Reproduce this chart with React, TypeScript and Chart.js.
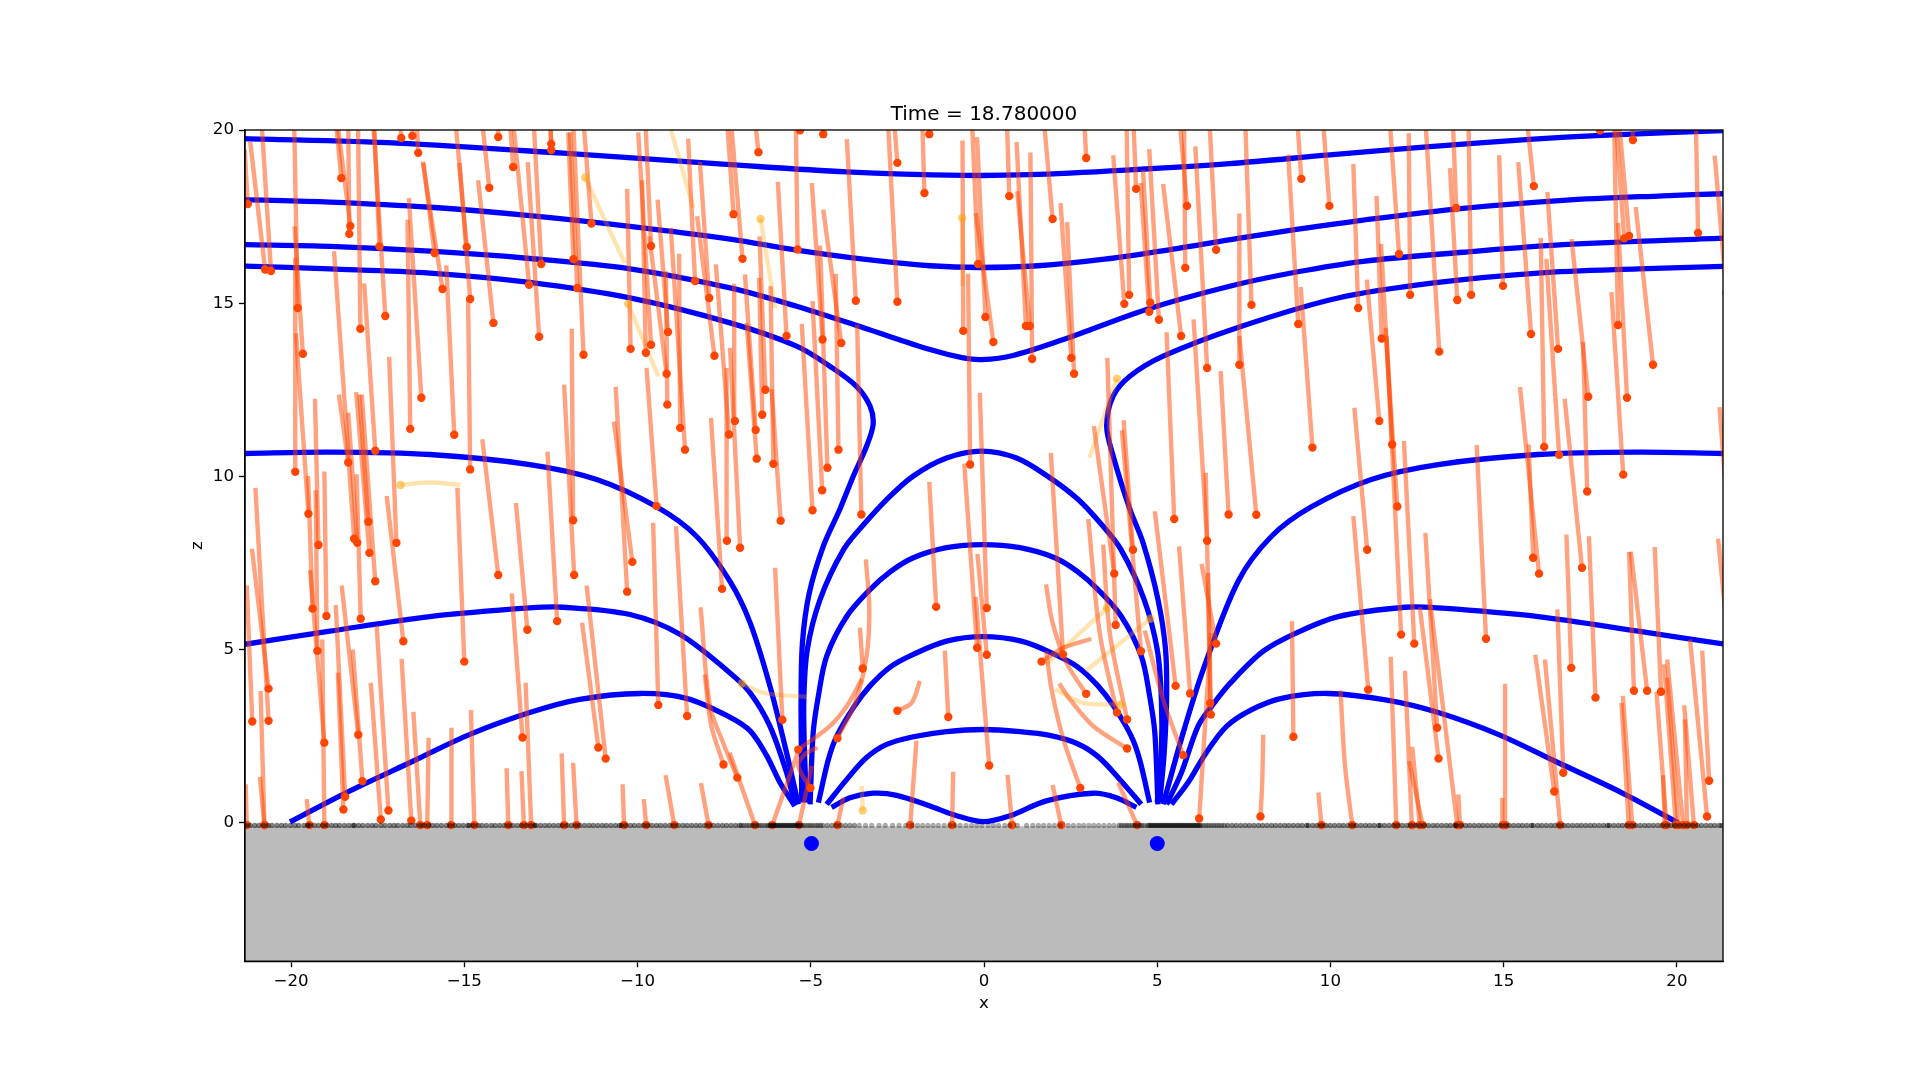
import React, { useEffect, useRef } from "react";
import { Chart, registerables } from "chart.js";

Chart.register(...registerables);

type P = [number, number];

const xTickValues = [-20, -15, -10, -5, 0, 5, 10, 15, 20];
const zTickValues = [0, 5, 10, 15, 20];
const titleText = "Time = 18.780000";
const groundLevel = -0.1;
const sandZ = -0.08;
const landedZ = -0.07;
const poles: P[] = [[-4.98, -0.6], [5.0, -0.6]];

// [head x, head z, tail x, tail z]
const tracksFarLeft = [
  [-21.25,17.86,-21.34,19.43],[-20.75,15.97,-21.18,19.67],[-20.58,15.93,-20.85,20.2],[-18.55,18.61,-18.72,20.39],
  [-18.29,17.23,-18.66,20.2],[-18.32,17.0,-18.35,20.2],[-19.81,14.86,-19.91,20.2],[-19.66,13.54,-19.9,17.22],
  [-19.88,10.13,-19.88,16.31],[-19.5,8.92,-19.86,14.13],[-18.0,14.26,-18.07,20.39],[-17.45,16.64,-17.6,20.2],
  [-17.28,14.63,-17.64,20.39],[-16.82,19.77,-16.9,21.07],[-16.5,19.83,-16.52,21.55],[-16.33,19.34,-16.44,21.55],
  [-15.86,16.45,-16.18,19.05],[-15.63,15.41,-16.2,19.09],[-16.24,12.27,-16.6,18.04],[-16.56,11.37,-16.64,17.41],
  [-15.29,11.2,-15.52,16.09],[-14.93,16.62,-15.25,20.2],[-14.83,15.12,-15.14,19.05],[-14.83,10.2,-14.89,15.1],
  [-14.28,18.33,-14.5,20.39],[-14.02,19.8,-14.07,21.55],[-14.16,14.43,-14.6,18.55],[-13.59,18.93,-13.73,20.87],
  [-13.13,15.53,-13.65,20.87],[-12.78,16.13,-13.03,20.87],[-12.84,14.03,-13.17,19.07],[-12.49,19.6,-12.58,21.55],
  [-12.49,19.42,-12.55,21.35],[-11.85,16.27,-12.0,19.93],[-11.74,15.44,-11.95,19.93],[-11.56,13.51,-11.86,20.3],
  [-11.33,17.3,-11.57,20.39],[-10.2,13.68,-10.3,18.3],[-9.61,16.65,-9.77,20.2],[-9.76,13.57,-9.87,18.55],
  [-9.61,13.8,-9.98,19.93],[-9.16,12.96,-9.66,16.93],[-9.12,14.17,-9.42,17.99],[-9.14,12.07,-9.18,15.92],
  [-8.77,11.4,-8.8,16.43],[-8.63,10.77,-9.04,17.17],[-8.34,15.64,-8.54,19.75],[-7.93,15.15,-8.2,19.08],
  [-7.78,13.48,-8.28,17.51],[-7.36,11.21,-7.74,16.12],[-9.45,9.14,-9.74,13.13],[-7.42,8.14,-7.43,13.13],
];
const tracksLowerLeft = [
  [-18.18,8.2,-18.76,16.5],[-17.57,10.74,-17.89,15.57],[-18.35,10.4,-18.62,12.36],[-16.96,8.08,-17.17,13.45],
  [-17.74,7.79,-18.12,12.43],[-17.77,8.69,-18.03,12.36],[-18.09,8.08,-18.35,11.84],[-19.21,8.02,-19.31,12.24],
  [-18.98,5.97,-19.04,10.14],[-19.38,6.18,-19.51,10.01],[-19.24,4.96,-19.29,9.6],[-19.04,2.31,-19.45,7.29],
  [-20.65,2.94,-21.03,9.67],[-20.65,3.87,-21.13,7.91],[-21.12,2.92,-21.28,6.85],[-16.76,5.24,-17.24,9.43],
  [-17.99,5.89,-18.11,10.06],[-17.57,6.97,-17.96,12.36],[-15.0,4.65,-15.2,9.67],[-13.18,5.57,-13.51,9.23],
  [-14.02,7.15,-14.48,11.07],[-12.32,5.82,-12.6,10.71],[-11.86,8.73,-11.9,14.26],[-11.83,7.15,-12.12,12.65],
  [-10.3,6.67,-10.63,12.58],[-10.15,7.53,-10.68,11.58],[-9.4,3.4,-9.55,8.66],[-8.57,3.08,-8.89,8.56],
  [-7.56,6.75,-7.88,11.69],[-18.44,0.75,-18.71,6.28],[-18.49,0.38,-18.65,4.33],[-18.06,2.54,-18.54,6.85],
  [-17.94,1.2,-18.22,5.0],[-17.41,0.09,-17.7,4.04],[-17.19,0.35,-17.53,5.69],[-16.53,0.06,-16.81,4.73],
  [-13.32,2.46,-13.63,6.62],[-11.13,2.17,-11.6,5.77],[-10.92,1.85,-11.47,6.85],
];
const tracksCentre = [
  [-6.51,19.36,-6.64,20.59],[-6.97,16.28,-7.28,19.99],[-7.23,17.57,-7.47,21.07],[-5.31,19.99,-5.41,21.55],
  [-4.64,19.88,-4.69,21.55],[-5.38,16.55,-5.44,20.87],[-5.7,14.05,-5.95,18.5],[-4.66,13.95,-4.97,18.47],
  [-4.12,13.85,-4.64,17.7],[-4.52,10.25,-4.73,16.66],[-4.2,10.77,-4.28,15.85],[-3.7,15.07,-3.96,19.74],
  [-2.5,19.05,-2.62,20.59],[-2.5,15.04,-2.79,20.59],[-1.72,18.18,-1.8,20.87],[-1.58,19.88,-1.66,21.55],
  [-0.6,14.2,-0.62,19.7],[-0.17,16.13,-0.36,20.59],[0.04,14.6,-0.2,19.79],[0.27,13.88,-0.23,17.6],
  [-0.4,10.34,-0.46,15.85],[0.73,18.09,0.65,20.59],[1.21,14.34,0.94,19.65],[1.32,14.34,0.96,18.23],
  [1.39,13.39,1.34,19.35],[1.98,17.43,1.71,20.49],[2.52,13.42,2.21,17.89],[2.6,12.96,2.4,17.34],
  [2.95,19.19,2.88,20.59],[4.05,14.98,3.73,19.27],[4.19,15.24,4.11,20.59],[4.39,18.3,4.3,20.59],
  [4.8,15.01,4.59,18.85],[4.77,14.75,4.52,18.47],[5.05,14.52,4.77,19.45],[5.69,14.05,5.17,18.44],
  [5.86,17.81,5.62,20.59],[5.81,16.02,5.77,20.59],[6.44,13.13,6.1,19.53],[6.7,16.54,6.49,20.59],
  [-6.31,12.5,-6.48,16.93],[-6.4,11.78,-6.49,15.73],[-7.19,11.6,-7.21,15.56],[-6.59,11.34,-6.9,15.83],
  [-6.56,10.51,-6.85,14.43],[-6.08,10.36,-6.16,15.49],[-5.87,8.72,-6.13,12.51],[-4.95,9.02,-5.26,14.4],
  [-4.67,9.6,-4.95,15.06],[-3.54,8.9,-3.66,14.38],[-1.38,6.23,-1.58,9.84],[-0.2,5.05,-0.57,10.37],
  [0.08,6.2,-0.12,12.41],[2.28,4.86,1.93,10.68],[3.76,7.19,3.17,11.45],[3.8,5.71,3.56,13.42],
  [4.3,7.88,4.03,11.62],[4.53,4.95,3.98,11.33],[5.49,8.77,5.27,14.16],[6.44,8.14,6.05,14.53],
  [6.53,3.45,6.4,10.1],[7.06,8.9,6.83,13.04],[-7.04,7.94,-7.33,13.71],[-5.82,2.97,-6.03,7.36],
  [-3.5,4.45,-3.58,5.63],[-1.03,3.05,-1.13,4.97],[0.15,1.65,-0.24,6.52],[0.08,4.85,-0.19,7.76],
  [5.53,3.95,4.93,8.99],[5.95,3.73,5.63,7.98],[6.7,5.17,6.28,7.47],[6.55,3.12,6.47,7.21],[6.21,0.12,6.55,5.48],
];
const tracksFarRight = [
  [7.72,14.95,7.53,20.59],[7.37,13.22,7.37,17.59],[9.07,14.4,8.78,19.29],[9.16,18.59,9.02,20.59],
  [9.48,10.83,9.14,15.47],[9.97,17.81,9.77,20.49],[10.8,14.86,10.66,19.02],[11.41,11.6,11.05,15.68],
  [11.48,13.98,11.33,18.1],[11.78,10.92,11.46,16.71],[11.93,9.13,11.59,14.29],[11.98,16.42,11.69,20.59],
  [12.3,15.24,12.26,19.91],[13.14,13.6,12.73,20.49],[13.63,17.75,13.52,20.59],[13.66,15.09,13.45,18.9],
  [14.06,15.24,13.98,20.59],[14.98,15.5,14.87,19.27],[15.79,14.11,15.42,19.07],[15.87,18.38,15.64,20.59],
  [16.57,13.68,16.26,18.21],[16.17,10.85,16.07,16.88],[16.6,10.62,16.23,16.28],[17.44,12.3,16.96,16.85],
  [17.41,9.56,17.29,13.88],[18.3,14.37,18.18,20.59],[18.48,16.87,18.21,20.59],[18.62,16.94,18.3,20.59],
  [18.56,12.27,18.3,17.32],[18.45,10.05,18.11,15.32],[19.31,13.22,18.81,17.78],[20.61,17.03,20.54,20.59],
  [18.73,19.71,18.69,21.07],[17.78,19.99,17.73,21.55],[21.43,15.3,21.09,19.26],[21.52,8.09,21.23,12.0],
  [21.48,5.2,21.19,8.2],
];
const tracksLowerRight = [
  [11.06,7.88,10.69,11.98],[11.09,3.84,10.66,8.85],[12.42,5.17,12.12,11.02],[12.04,5.43,11.62,14.05],
  [14.49,5.31,14.22,10.9],[15.85,7.65,15.72,10.92],[16.02,7.19,15.47,12.58],[17.26,7.36,16.76,12.24],
  [16.95,4.47,16.81,8.32],[17.65,3.61,17.46,8.27],[18.76,3.81,18.62,7.82],[19.14,3.81,18.67,7.82],
  [19.54,3.78,19.36,7.96],[20.93,1.21,20.73,4.97],[20.87,0.18,20.38,5.29],[13.08,2.74,12.74,8.37],
  [13.12,1.85,12.58,6.22],[8.93,2.48,8.89,5.82],[7.86,8.89,7.37,14.05],[16.72,1.44,16.55,6.16],[16.46,0.9,15.91,4.85],
];

// [landing x, tail x, tail z]
const landedTracks = [
  [-21.28,-21.31,1.11],[-20.77,-20.88,3.8],[-20.77,-20.9,1.32],[-19.47,-19.55,0.68],[-19.04,-19.1,5.29],
  [-16.27,-16.47,3.2],[-16.07,-16.03,2.45],[-15.38,-15.37,2.74],[-14.71,-14.81,3.25],[-13.73,-13.78,1.57],
  [-13.28,-13.35,1.49],[-13.07,-13.23,4.04],[-12.12,-12.19,2.0],[-11.76,-11.86,1.73],[-10.39,-10.43,1.11],
  [-9.75,-9.82,0.68],[-8.94,-9.19,1.37],[-7.95,-8.17,1.14],[-6.61,-7.34,2.02],[-6.11,-5.36,2.07],
  [-5.34,-4.97,1.64],[-4.23,-4.06,0.72],[-2.13,-1.95,2.36],[-0.92,-0.89,1.47],[0.81,0.68,1.38],
  [2.23,1.98,1.09],[4.42,3.87,1.16],[9.74,9.65,0.87],[11.9,11.74,4.79],[12.35,12.15,4.38],
  [12.58,12.36,2.19],[12.66,12.27,1.78],[13.66,12.87,6.45],[13.74,13.69,0.82],[15.05,15.04,4.01],
  [14.98,14.96,0.71],[16.63,16.19,4.71],[18.61,18.4,3.46],[18.71,18.44,3.66],[19.65,19.6,1.37],
  [19.97,19.63,4.57],[20.04,19.72,4.19],[20.18,19.72,4.71],[20.29,20.23,2.98],[20.49,20.21,3.39],[19.7,19.41,3.78],
];

// head first, then along the tail
const curvedTracks: P[][] = [
  [[-5.36,2.11],[-4.45,2.79],[-3.96,3.37],[-3.53,4.14]],
  [[-4.23,2.44],[-3.72,3.46],[-3.39,4.81],[-3.31,6.16],[-3.41,7.6]],
  [[-5.01,1.0],[-5.36,1.64],[-5.17,1.97],[-4.81,2.17]],
  [[-2.5,3.23],[-2.09,3.46],[-1.85,4.09]],
  [[2.78,1.0],[2.29,2.41],[1.95,3.85],[1.8,4.95]],
  [[2.95,3.72],[2.38,4.62],[1.98,5.77],[1.79,6.88]],
  [[1.66,4.65],[2.29,5.05],[3.1,5.31]],
  [[4.13,2.14],[3.15,2.79],[2.48,3.56],[2.17,4.02]],
  [[5.75,1.95],[5.17,3.56],[4.64,5.55]],
  [[3.84,3.18],[3.34,5.48],[3.01,8.77]],
  [[4.13,2.98],[3.63,5.48],[3.44,8.03]],
  [[-7.12,1.3],[-7.53,2.31],[-7.91,3.37],[-8.18,6.22]],
  [[-7.52,1.68],[-7.87,2.79],[-8.06,4.28]],
  [[7.98,0.18],[8.03,1.16],[8.06,2.54]],
  [[10.63,-0.07],[10.42,1.64],[10.29,3.82]],
];

const paleTracks: P[][] = [
  [[-11.51,18.63],[-10.37,16.16]],
  [[-10.27,14.98],[-9.4,12.89]],
  [[-9.09,20.2],[-8.39,17.75]],
  [[-16.84,9.75],[-15.99,9.82],[-15.11,9.75]],
  [[-6.45,17.43],[-6.03,14.86]],
  [[-0.63,17.46],[-0.62,15.49]],
  [[3.84,12.82],[3.04,10.54]],
  [[-6.99,4.02],[-6.37,3.75],[-5.12,3.63]],
  [[3.55,6.2],[1.8,4.57]],
  [[4.8,5.89],[2.94,4.38]],
  [[3.94,3.41],[2.86,3.46],[2.05,3.85]],
  [[-3.5,0.35],[-3.53,1.06]],
];

const lineTop: P[] = [[-21.33,19.75],[-16.95,19.62],[-12.15,19.33],[-7.33,19.0],[-3.97,18.79],[-0.6,18.69],[1.32,18.71],[4.21,18.85],[7.09,19.03],[9.98,19.28],[12.87,19.52],[15.75,19.73],[18.16,19.86],[21.33,19.98]];
const lineSecond: P[] = [[-21.33,17.99],[-18.88,17.92],[-15.99,17.77],[-13.11,17.53],[-10.22,17.22],[-7.33,16.85],[-5.41,16.53],[-3.48,16.27],[-1.56,16.08],[-0.12,16.03],[1.56,16.08],[3.48,16.27],[5.41,16.55],[7.33,16.87],[9.02,17.13],[10.95,17.4],[13.83,17.74],[16.72,17.97],[19.6,18.1],[21.33,18.16]];
const lineSaddle: P[] = [[-21.33,16.69],[-18.88,16.64],[-15.99,16.5],[-13.11,16.29],[-10.22,15.99],[-7.33,15.44],[-5.41,14.91],[-3.48,14.29],[-1.56,13.66],[-0.6,13.42],[-0.07,13.37],[0.84,13.49],[2.29,13.95],[4.69,14.82],[7.09,15.49],[9.02,15.9],[10.95,16.21],[13.83,16.47],[16.72,16.69],[21.33,16.88]];
const lineLeftSeparatrix: P[] = [[-21.33,16.07],[-18.88,15.99],[-15.99,15.87],[-13.11,15.6],[-10.22,15.15],[-7.33,14.43],[-5.41,13.76],[-4.45,13.18],[-3.68,12.6],[-3.29,12.03],[-3.2,11.5],[-3.39,10.87],[-3.77,10.01],[-4.16,9.05],[-4.64,7.98],[-5.05,6.6],[-5.24,5.2],[-5.28,3.6],[-5.27,2.0],[-5.26,0.58]];
const lineRightSeparatrix: P[] = [[5.07,0.58],[5.2,2.0],[5.27,3.6],[5.24,5.0],[5.02,6.45],[4.59,8.08],[4.21,9.05],[3.73,10.58],[3.54,11.45],[3.73,12.32],[4.21,12.89],[5.17,13.47],[7.33,14.3],[10.22,15.15],[13.11,15.6],[15.99,15.87],[18.88,15.99],[21.33,16.06]];
const lineLeftTen: P[] = [[-21.33,10.66],[-18.88,10.7],[-15.99,10.63],[-13.11,10.34],[-11.18,9.91],[-9.45,9.12],[-8.3,8.27],[-7.34,6.98],[-6.75,5.77],[-6.18,3.95],[-5.7,2.02],[-5.36,0.53]];
const lineRightTen: P[] = [[5.17,0.53],[5.75,2.6],[6.32,4.4],[7.34,6.98],[8.3,8.27],[9.45,9.12],[11.18,9.91],[13.11,10.34],[15.99,10.63],[18.88,10.7],[21.33,10.66]];
const lineLeftSix: P[] = [[-21.33,5.15],[-18.88,5.53],[-15.99,5.95],[-13.11,6.2],[-12.15,6.22],[-10.22,6.01],[-8.78,5.44],[-7.34,4.33],[-6.75,3.75],[-6.18,2.79],[-5.7,1.45],[-5.46,0.53]];
const lineRightSix: P[] = [[5.27,0.53],[5.7,1.45],[6.18,2.79],[6.6,3.4],[7.1,4.02],[8.06,4.95],[9.02,5.48],[10.22,5.95],[12.15,6.22],[13.11,6.2],[15.99,5.95],[18.88,5.53],[21.33,5.16]];
const lineLeftLow: P[] = [[-20.03,0.02],[-18.4,0.87],[-16.47,1.78],[-14.84,2.55],[-13.11,3.18],[-11.67,3.56],[-9.93,3.73],[-8.59,3.59],[-7.34,3.05],[-6.75,2.65],[-6.27,1.93],[-5.89,1.16],[-5.46,0.48]];
const lineRightLow: P[] = [[5.41,0.53],[5.89,1.16],[6.4,2.0],[7.0,2.78],[7.7,3.25],[8.59,3.59],[9.93,3.73],[11.67,3.53],[13.11,3.18],[14.84,2.55],[16.47,1.78],[18.4,0.87],[20.03,0.0]];
const archTen: P[] = [[-5.12,0.58],[-5.18,2.0],[-5.2,3.56],[-5.1,5.0],[-4.73,6.45],[-4.05,7.89],[-3.48,8.6],[-2.81,9.33],[-2.04,10.01],[-1.08,10.53],[-0.07,10.73],[0.94,10.53],[1.9,9.96],[2.72,9.33],[3.4,8.6],[3.95,7.89],[4.62,6.45],[5.0,5.0],[5.12,3.56],[5.12,2.0],[5.0,0.58]];
const archEight: P[] = [[-5.02,0.53],[-4.93,2.6],[-4.78,3.66],[-4.54,4.81],[-3.96,5.96],[-3.29,6.73],[-2.7,7.25],[-2.04,7.65],[-1.08,7.94],[-0.04,8.03],[1.04,7.94],[2.04,7.65],[2.7,7.25],[3.29,6.73],[3.96,5.96],[4.54,4.81],[4.78,3.66],[4.93,2.6],[5.02,0.53]];
const archFive: P[] = [[-4.78,0.58],[-4.49,1.83],[-4.25,2.5],[-3.75,3.35],[-3.29,3.95],[-2.7,4.5],[-2.04,4.86],[-1.08,5.24],[-0.04,5.37],[1.08,5.24],[2.04,4.86],[2.7,4.5],[3.29,3.95],[3.75,3.35],[4.25,2.5],[4.49,1.83],[4.78,0.58]];
const archTwo: P[] = [[-4.54,0.53],[-3.96,1.25],[-3.39,1.88],[-2.81,2.26],[-2.04,2.48],[-1.08,2.63],[-0.04,2.69],[1.04,2.63],[1.9,2.52],[2.7,2.28],[3.3,1.9],[3.9,1.27],[4.54,0.53]];
const archLow: P[] = [[-4.4,0.44],[-3.87,0.72],[-3.2,0.85],[-2.52,0.79],[-1.56,0.48],[-0.79,0.2],[-0.02,0.03],[0.75,0.2],[1.8,0.63],[3.15,0.85],[3.82,0.72],[4.4,0.44]];

// sand grains lying on the ground
const sandOuterLeft = [-21.3,-21.18,-21.05,-20.93,-20.79,-20.66,-20.55,-20.41,-20.28,-20.16,-20.02,-19.89,-19.78,-19.63,-19.52,-19.47,-19.33,-19.21,-19.08,-18.96,-18.83,-18.71,-18.6,-18.46,-18.33,-18.21,-18.17,-18.05,-17.93,-17.79,-17.66,-17.55,-17.41,-17.29,-17.15,-17.03,-16.92,-16.78,-16.65,-16.54,-16.41,-16.27,-16.16,-16.03,-15.91,-15.79,-15.66,-15.52,-15.41,-15.28,-15.16,-15.03,-14.9,-14.86,-14.74,-14.6,-14.49,-14.36,-14.22,-14.11,-13.98,-13.85,-13.72,-13.6,-13.47,-13.35,-13.22,-13.09,-12.97,-12.93,-12.8,-12.67,-12.55,-12.42,-12.29,-12.17,-12.03,-11.91,-11.78,-11.66,-11.53,-11.4,-11.28,-11.15,-11.02,-10.9,-10.77,-10.64,-10.52,-10.47,-10.34,-10.21,-10.09,-9.96,-9.83,-9.71,-9.58,-9.45,-9.33,-9.2,-9.07,-8.95,-8.82,-8.69,-8.57,-8.44,-8.31,-8.19,-8.06,-7.93,-7.81,-7.68,-7.55,-7.43,-7.3,-7.17,-7.05];
const sandOuterRight = [7.03,7.16,7.28,7.41,7.54,7.66,7.79,7.92,8.04,8.17,8.3,8.42,8.55,8.68,8.8,8.93,9.06,9.18,9.31,9.36,9.49,9.61,9.74,9.87,9.99,10.12,10.25,10.37,10.5,10.63,10.75,10.88,11.01,11.13,11.26,11.39,11.44,11.56,11.69,11.82,11.94,12.07,12.2,12.32,12.45,12.58,12.7,12.83,12.96,13.08,13.21,13.34,13.46,13.59,13.64,13.77,13.9,14.02,14.15,14.28,14.4,14.53,14.66,14.78,14.91,15.04,15.16,15.29,15.42,15.54,15.67,15.8,15.85,15.98,16.1,16.23,16.36,16.48,16.61,16.74,16.86,16.99,17.12,17.24,17.37,17.5,17.62,17.75,17.88,18.0,18.05,18.18,18.31,18.43,18.56,18.69,18.81,18.94,19.07,19.19,19.32,19.45,19.57,19.7,19.83,19.95,20.08,20.21,20.33,20.46,20.59,20.71,20.84,20.97,21.09,21.22,21.3];
const sandMedium = [-7.0,-6.93,-6.85,-6.78,-6.7,-6.63,-6.55,-6.48,-6.41,-6.33,-6.26,-5.23,-5.16,-5.08,-5.01,-4.94,-4.86,-4.79,-4.72,-4.65,-4.52,-4.39,-4.26,-4.13,-4.0,-3.87,-3.74,3.9,3.97,4.05,4.12,4.19,4.27,4.34,4.41,4.49,4.56,4.63,6.33,6.41,6.48,6.56,6.63,6.71,6.78,6.86,6.93];
const sandLight = [-3.6,-3.42,-3.24,-3.03,-2.85,-2.64,-2.45,-2.26,-2.08,-1.92,-1.77,-1.62,-1.47,-1.32,-1.15,-0.99,-0.84,-0.69,-0.52,-0.36,-0.21,-0.06,0.12,0.27,0.42,0.6,0.74,0.96,1.23,1.41,1.57,1.72,1.88,2.03,2.2,2.43,2.58,2.74,2.88,3.03,3.17,3.31,3.46,3.61,3.75];
const sandDense = [-6.2,-6.17,-6.13,-6.1,-6.06,-6.03,-5.99,-5.96,-5.92,-5.89,-5.85,-5.82,-5.78,-5.75,-5.71,-5.68,-5.64,-5.61,-5.57,-5.54,-5.5,-5.47,-5.43,-5.4,-5.36,-5.33,-5.29,4.72,4.76,4.79,4.83,4.86,4.9,4.93,4.97,5.0,5.04,5.07,5.11,5.14,5.18,5.21,5.25,5.28,5.32,5.35,5.39,5.42,5.46,5.49,5.53,5.56,5.6,5.63,5.67,5.7,5.74,5.77,5.81,5.84,5.88,5.91,5.95,5.98,6.02,6.05,6.09,6.12,6.16,6.19,6.23,6.26];

const FONT = "'DejaVu Sans', sans-serif";
const ORANGERED = "#ff4500";

const toPoints = (pts: P[]) => pts.map(([x, y]) => ({ x, y }));

const lineDataset = (pts: P[], color: string, width: number, tension = 0) => ({
  data: toPoints(pts),
  showLine: true,
  borderColor: color,
  borderWidth: width,
  pointRadius: 0,
  tension,
  clip: 0,
  fill: false,
});

const dotDataset = (pts: P[], color: string, radius: number) => ({
  data: toPoints(pts),
  showLine: false,
  backgroundColor: color,
  borderWidth: 0,
  pointRadius: radius,
  pointBorderWidth: 0,
  clip: 0,
});

const frame = {
  id: "frame",
  afterDraw(chart: any) {
    const { ctx, chartArea: a } = chart;
    ctx.save();
    ctx.strokeStyle = "#000";
    ctx.lineWidth = 1.33;
    ctx.strokeRect(a.left, a.top, a.right - a.left, a.bottom - a.top);
    ctx.restore();
  },
};

export default function App() {
  const ref = useRef<HTMLCanvasElement>(null);
  useEffect(() => {
    const straight = [...tracksFarLeft, ...tracksLowerLeft, ...tracksCentre, ...tracksFarRight, ...tracksLowerRight];
    const landed: number[][] = landedTracks.map(([hx, tx, tz]) => [hx, landedZ, tx, tz]);
    const allStraight = [...straight, ...landed];
    const trackColor = "rgba(255,69,0,0.5)";
    const paleColor = "rgba(255,165,0,0.3)";
    const fieldLines = [lineTop, lineSecond, lineSaddle, lineLeftSeparatrix, lineRightSeparatrix, lineLeftTen, lineRightTen, lineLeftSix, lineRightSix, lineLeftLow, lineRightLow, archTen, archEight, archFive, archTwo, archLow];
    const sand = (xs: number[]) => xs.map((x) => [x, sandZ] as P);

    const datasets: any[] = [
      dotDataset(sand(sandDense), "rgba(0,0,0,0.4)", 2.6),
      dotDataset(sand(sandOuterLeft), "rgba(0,0,0,0.5)", 2.6),
      dotDataset(sand(sandOuterRight), "rgba(0,0,0,0.5)", 2.6),
      dotDataset(sand(sandMedium), "rgba(0,0,0,0.42)", 2.6),
      dotDataset(sand(sandLight), "rgba(0,0,0,0.32)", 2.6),
      dotDataset(poles, "#0000ff", 7.5),
      dotDataset([...allStraight.map((t) => [t[0], t[1]] as P), ...curvedTracks.map((c) => c[0])], ORANGERED, 4.2),
      dotDataset(paleTracks.map((c) => c[0]), "rgba(255,165,0,0.55)", 4.2),
      ...allStraight.map((t) => lineDataset([[t[0], t[1]], [t[2], t[3]]], trackColor, 4.4)),
      ...curvedTracks.map((c) => lineDataset(c, trackColor, 4.4, 0.33)),
      ...paleTracks.map((c) => lineDataset(c, paleColor, 4.4, 0.33)),
      ...fieldLines.map((l) => lineDataset(l, "#0000ff", 5.3, 0.33)),
      {
        data: toPoints([[-21.33, groundLevel], [21.33, groundLevel]]),
        showLine: true,
        borderWidth: 0,
        pointRadius: 0,
        backgroundColor: "#bbbbbb",
        fill: "start",
        clip: 0,
      },
    ];

    const tickFont = { family: FONT, size: 16.67 };
    const axisBase = {
      type: "linear",
      grid: { display: true, drawOnChartArea: false, drawTicks: true, tickLength: 6, tickWidth: 1.33, tickColor: "#000" },
      border: { display: true, color: "#000", width: 1.33 },
    };
    const label = (v: any) => String(v).replace("-", "\u2212");

    const chart = new Chart(ref.current as HTMLCanvasElement, {
      type: "scatter",
      data: { datasets },
      plugins: [frame],
      options: {
        responsive: false,
        animation: false,
        events: [],
        layout: { padding: { left: 0, top: 0, right: 197, bottom: 0 } },
        plugins: {
          legend: { display: false },
          tooltip: { enabled: false },
          title: {
            display: true,
            text: titleText,
            color: "#000",
            fullSize: false,
            font: { family: FONT, size: 20, weight: "normal" },
            padding: { top: 102.9, bottom: 3.1 },
          },
        },
        scales: {
          x: {
            ...axisBase,
            min: -21.33,
            max: 21.33,
            afterBuildTicks: (s: any) => { s.ticks = xTickValues.map((value) => ({ value })); },
            afterFit: (s: any) => { s.height = 118.8; },
            ticks: { color: "#000", font: tickFont, padding: 4, maxRotation: 0, autoSkip: false, callback: label },
            title: { display: true, text: "x", color: "#000", font: tickFont, padding: { top: 0, bottom: 66.5 } },
          },
          y: {
            ...axisBase,
            min: -4,
            max: 20,
            afterBuildTicks: (s: any) => { s.ticks = zTickValues.map((value) => ({ value })); },
            afterFit: (s: any) => { s.width = 245; },
            ticks: { color: "#000", font: tickFont, padding: 5, autoSkip: false, callback: label },
            title: { display: true, text: "z", color: "#000", font: tickFont, padding: { top: 188, bottom: 0 } },
          },
        },
      } as any,
    } as any);
    return () => chart.destroy();
  }, []);
  return (
    <canvas
      ref={ref}
      width={1920}
      height={1080}
      style={{ position: "absolute", left: 0, top: 0, width: 1920, height: 1080, background: "#fff" }}
    />
  );
}
